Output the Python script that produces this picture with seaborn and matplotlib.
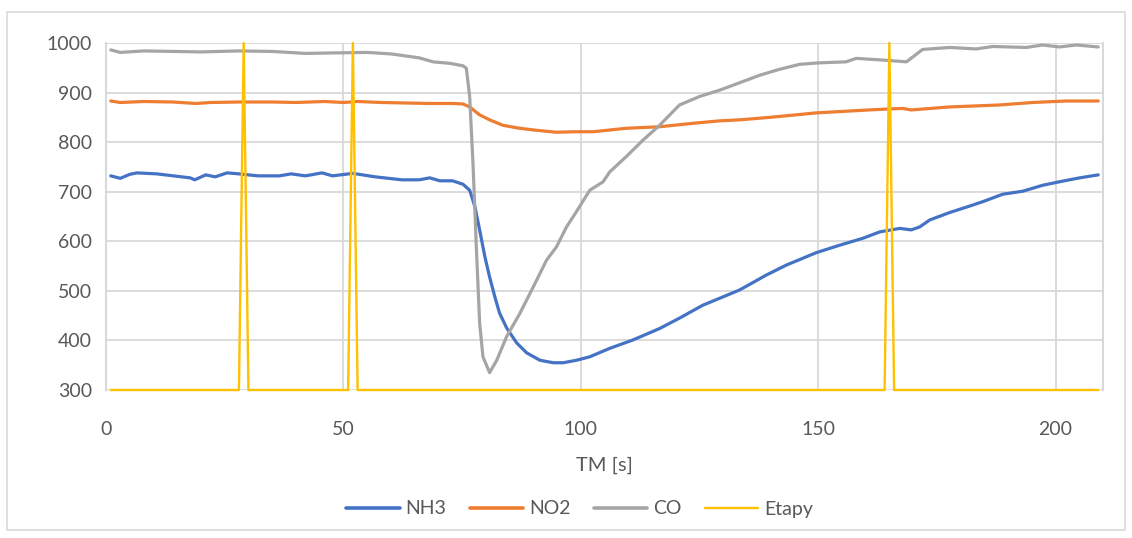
import numpy as np
import pandas as pd
import matplotlib
matplotlib.use("Agg")
import matplotlib.pyplot as plt
import seaborn as sns
from matplotlib.patches import Rectangle
from matplotlib.lines import Line2D

sns.set_theme(style="white")
plt.rcParams['font.family'] = ['Lato', 'DejaVu Sans']

# ===== Data =====
nh3_t = [1, 3, 5, 6.5, 10.7, 14.2, 17.7, 18.7, 21, 23, 25.5, 28, 32, 36.5, 39, 42, 45.5,
         47.7, 52, 56.7, 62.3, 66, 68.2, 70.3, 73, 75.2, 76.6, 77.7, 78.7, 79.8, 80.8,
         81.9, 82.9, 84.4, 86.5, 88.6, 91.4, 94.2, 96.3, 99.1, 101.9, 106.1, 111, 116.6,
         120.8, 125.7, 130, 133.5, 139.1, 143.3, 149.6, 154.5, 159.4, 163, 167.2, 169.6,
         171.4, 173.5, 177.7, 181.9, 184.7, 188.9, 193.1, 197.3, 200.8, 205.1, 209]
nh3_v = [732, 727, 735, 738, 736, 732, 728, 724, 734, 730, 738, 736, 732, 732, 736, 732, 738,
         732, 737, 730, 724, 724, 728, 722, 722, 715, 703, 670, 623, 569, 528,
         488, 455, 425, 395, 375, 360, 355, 355, 360, 367, 384, 401, 424,
         445, 471, 488, 502, 532, 552, 577, 592, 606, 619, 626, 623,
         629, 643, 658, 671, 680, 695, 701, 713, 720, 728, 734]

no2_t = [1, 3, 8, 14, 19, 22, 28, 35, 40, 46, 50, 53, 58, 63, 68, 73, 75.2, 76.6, 78.7,
         80.8, 83.6, 87.1, 90.6, 94.8, 99.1, 102.6, 109.6, 116.6, 123.6, 129.3, 133.5,
         139.8, 149.6, 160.8, 165, 167.8, 169.6, 177.7, 188.2, 195.2, 202.2, 209]
no2_v = [883, 880, 882, 881, 878, 880, 881, 881, 880, 882, 880, 882, 880, 879, 878, 878,
         877, 871, 855, 845, 834, 828, 824, 820, 821, 821, 828, 831, 838, 843, 845,
         850, 859, 865, 867, 868, 865, 871, 875, 880, 883, 883]

co_t = [1, 3, 8, 14, 20, 28, 35, 42, 48, 55, 60, 63, 66, 68.9, 72.4, 75.2, 75.9, 76.6,
        77.3, 78, 78.7, 79.4, 80.8, 82.3, 84.4, 87.2, 90, 92.8, 94.9, 97, 99.1, 101.9,
        104.7, 106.1, 109.6, 113.1, 116.6, 120.8, 125, 129.3, 133.5, 137.7, 141.9, 146.1,
        150.3, 155.9, 158, 163, 168.6, 172, 177.7, 183.3, 186.8, 193.8, 197.3, 200.8,
        204.4, 209]
co_v = [986, 981, 984, 983, 982, 984, 983, 979, 980, 981, 978, 974, 970, 962, 959, 954,
        949, 892, 757, 589, 435, 367, 335, 360, 408, 455, 508, 562, 589, 629, 660, 703,
        720, 740, 771, 804, 834, 875, 892, 905, 920, 935, 947, 957,
        960, 962, 969, 966, 962, 987, 991, 988, 993, 991, 996, 992,
        996, 992]

etapy_t = [1, 28, 29, 30, 51, 52, 53, 164, 165, 166, 209]
etapy_v = [300, 300, 1000, 300, 300, 1000, 300, 300, 1000, 300, 300]

series = ["NH3", "NO2", "CO", "Etapy"]
colors = ["#4472C4", "#ED7D31", "#A5A5A5", "#FFC000"]

df = pd.concat([
    pd.DataFrame({"TM": nh3_t, "value": nh3_v, "series": "NH3"}),
    pd.DataFrame({"TM": no2_t, "value": no2_v, "series": "NO2"}),
    pd.DataFrame({"TM": co_t, "value": co_v, "series": "CO"}),
    pd.DataFrame({"TM": etapy_t, "value": etapy_v, "series": "Etapy"}),
], ignore_index=True)

# ===== Plot =====
fig = plt.figure(figsize=(11.32, 5.38), dpi=100)
ax = fig.add_axes([106 / 1132, 1 - 390 / 538, (1103 - 106) / 1132, (390 - 43) / 538])

text_col = "#595959"
grid_col = "#D9D9D9"

for name, col in zip(series, colors):
    lw = 1.7 if name == "Etapy" else 2.3
    sns.lineplot(data=df[df.series == name], x="TM", y="value", color=col,
                 linewidth=lw, estimator=None, sort=False, ax=ax, legend=False,
                 solid_joinstyle="round", clip_on=(name != "Etapy"))

ax.set_xlim(0, 210)
ax.set_ylim(300, 1000)
ax.set_xticks([0, 50, 100, 150, 200])
ax.set_yticks(range(300, 1001, 100))
ax.grid(True, color=grid_col, linewidth=1.3)
ax.set_axisbelow(True)
for s in ["top", "bottom"]:
    ax.spines[s].set_visible(False)
for s in ["left", "right"]:
    ax.spines[s].set_color(grid_col)
    ax.spines[s].set_linewidth(1.5)
ax.tick_params(axis="both", length=0, labelsize=14, colors=text_col, pad=10)
ax.tick_params(axis="x", pad=22)
ax.set_ylabel("")
ax.set_xlabel("TM [s]", fontsize=14.5, color=text_col, labelpad=14)

handles = [Line2D([], [], color=c, linewidth=(1.7 if n == "Etapy" else 2.6),
                  solid_capstyle="round") for n, c in zip(series, colors)]
fig.legend(handles, series, loc="center", bbox_to_anchor=(0.512, 1 - 509 / 538),
           ncol=4, frameon=False, fontsize=14, labelcolor=text_col,
           handlelength=2.75, handletextpad=0.3, columnspacing=1.2)

fig.patches.append(Rectangle((7 / 1132, 8 / 538), 1118 / 1132, 518 / 538,
                             transform=fig.transFigure, fill=False,
                             edgecolor=grid_col, linewidth=1.2))

fig.savefig("out.png", dpi=100)
